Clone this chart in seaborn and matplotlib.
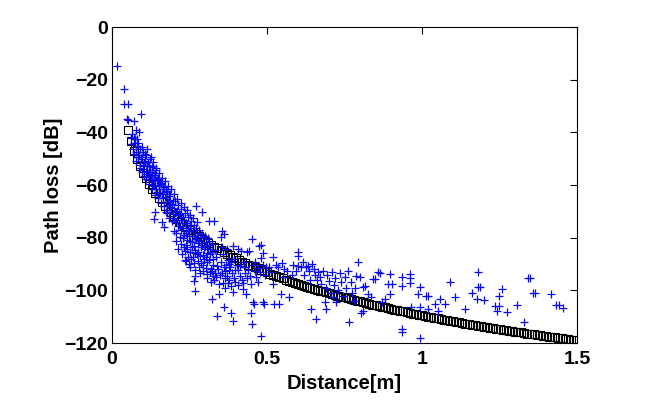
import numpy as np
import pandas as pd
import matplotlib
matplotlib.use('Agg')
import matplotlib.pyplot as plt
import seaborn as sns

# model curve (black squares), one square every 0.01 m from 0.05 to 1.50 m
model_loss = [
    -39.0, -43.3, -46.9, -50.0, -52.8, -55.3, -57.5, -59.6, -61.5, -63.2,
    -64.8, -66.4, -67.8, -69.1, -70.4, -71.6, -72.8, -73.9, -74.9, -75.9,
    -76.9, -77.8, -78.7, -79.5, -80.4, -81.2, -81.9, -82.7, -83.4, -84.1,
    -84.8, -85.5, -86.1, -86.7, -87.3, -87.9, -88.5, -89.1, -89.6, -90.2,
    -90.7, -91.2, -91.7, -92.2, -92.7, -93.2, -93.7, -94.1, -94.6, -95.0,
    -95.4, -95.9, -96.3, -96.7, -97.1, -97.5, -97.9, -98.2, -98.6, -99.0,
    -99.4, -99.7, -100.1, -100.4, -100.8, -101.1, -101.4, -101.8, -102.1, -102.4,
    -102.7, -103.0, -103.3, -103.7, -104.0, -104.2, -104.5, -104.8, -105.1, -105.4,
    -105.7, -106.0, -106.2, -106.5, -106.8, -107.0, -107.3, -107.5, -107.8, -108.0,
    -108.3, -108.5, -108.8, -109.0, -109.3, -109.5, -109.7, -110.0, -110.2, -110.4,
    -110.6, -110.9, -111.1, -111.3, -111.5, -111.7, -112.0, -112.2, -112.4, -112.6,
    -112.8, -113.0, -113.2, -113.4, -113.6, -113.8, -114.0, -114.2, -114.4, -114.6,
    -114.8, -114.9, -115.1, -115.3, -115.5, -115.7, -115.9, -116.0, -116.2, -116.4,
    -116.6, -116.7, -116.9, -117.1, -117.3, -117.4, -117.6, -117.8, -117.9, -118.1,
    -118.2, -118.4, -118.6, -118.7, -118.9, -119.0,
]
model_dist = np.linspace(0.05, 1.5, len(model_loss))

meas_near = [
    (0.016, -14.7), (0.038, -23.7), (0.038, -29.3), (0.052, -29.3), (0.092, -33.1),
    (0.049, -34.8), (0.052, -35.3), (0.070, -35.7), (0.076, -39.2), (0.086, -39.9),
    (0.070, -41.8), (0.080, -42.5), (0.064, -40.5),
    (0.062, -42.3), (0.060, -44.6),
    (0.072, -44.1), (0.068, -46.4), (0.071, -48.2), (0.075, -42.7),
    (0.081, -45.3), (0.079, -47.6), (0.083, -49.2), (0.085, -44.1), (0.078, -50.7),
    (0.091, -46.2), (0.088, -48.7), (0.093, -50.3), (0.090, -52.4), (0.096, -45.5), (0.089, -53.6),
    (0.101, -47.4), (0.098, -49.3), (0.104, -51.7), (0.100, -52.9), (0.097, -55.1), (0.103, -56.6), (0.106, -48.2),
    (0.111, -48.6), (0.108, -50.8), (0.113, -52.3), (0.110, -54.7), (0.115, -55.9), (0.109, -57.8), (0.114, -46.5), (0.117, -51.2),
    (0.121, -50.3), (0.118, -52.9), (0.124, -54.2), (0.120, -56.4), (0.126, -57.6), (0.119, -59.5), (0.128, -53.1), (0.125, -49.4),
    (0.131, -52.6), (0.128, -54.9), (0.134, -56.1), (0.130, -58.3), (0.136, -60.4), (0.129, -61.7), (0.138, -55.3), (0.133, -51.2), (0.140, -57.6),
    (0.141, -54.4), (0.138, -56.8), (0.144, -58.1), (0.140, -60.2), (0.146, -62.5), (0.139, -63.8), (0.148, -57.2), (0.143, -53.4), (0.140, -70.4), (0.135, -72.9),
    (0.151, -55.6), (0.148, -57.9), (0.154, -59.3), (0.150, -61.4), (0.156, -63.2), (0.149, -64.9), (0.158, -58.4), (0.153, -60.1),
    (0.161, -57.2), (0.158, -59.7), (0.164, -61.6), (0.160, -63.3), (0.166, -65.1), (0.159, -66.8), (0.168, -60.5), (0.162, -74.2),
    (0.171, -58.3), (0.168, -60.9), (0.174, -62.2), (0.170, -64.6), (0.176, -66.4), (0.169, -68.1), (0.173, -70.2), (0.167, -76.1),
    (0.181, -60.4), (0.178, -62.7), (0.184, -64.3), (0.180, -66.5), (0.186, -68.2), (0.179, -70.6), (0.183, -72.4), (0.188, -63.5),
    (0.191, -61.5), (0.188, -65.8), (0.194, -67.3), (0.190, -69.4), (0.196, -71.2), (0.193, -73.5), (0.197, -66.2),
]

meas_mid = [
    (0.201, -63.4), (0.204, -66.1), (0.200, -68.6), (0.206, -70.3), (0.199, -72.7), (0.203, -74.1), (0.200, -77.3),
    (0.211, -65.2), (0.214, -67.5), (0.210, -69.8), (0.216, -71.1), (0.209, -73.4), (0.213, -75.6), (0.205, -78.2), (0.207, -81.4), (0.212, -84.3),
    (0.221, -66.9), (0.224, -69.3), (0.220, -71.5), (0.226, -73.2), (0.219, -75.7), (0.223, -77.1), (0.218, -79.6), (0.222, -82.4), (0.225, -86.2),
    (0.231, -68.3), (0.234, -70.7), (0.230, -72.1), (0.236, -74.6), (0.229, -76.2), (0.233, -78.8), (0.228, -80.3), (0.232, -83.5), (0.235, -85.1), (0.237, -88.4),
    (0.241, -69.5), (0.244, -72.2), (0.240, -74.4), (0.246, -76.9), (0.239, -78.1), (0.243, -80.7), (0.238, -82.6), (0.242, -84.2), (0.245, -87.3), (0.248, -90.1), (0.240, -89.0),
    (0.251, -71.3), (0.254, -73.8), (0.250, -75.2), (0.256, -77.5), (0.249, -79.4), (0.253, -81.1), (0.257, -83.7), (0.252, -85.5), (0.255, -88.2), (0.250, -91.3),
    (0.261, -72.6), (0.264, -75.1), (0.260, -77.4), (0.266, -79.3), (0.259, -81.8), (0.263, -83.2), (0.267, -85.9), (0.262, -87.4), (0.265, -89.6), (0.268, -92.3),
    (0.270, -67.8), (0.275, -74.2), (0.271, -76.5), (0.274, -78.3), (0.272, -80.6), (0.276, -82.1), (0.269, -84.7), (0.273, -86.3), (0.277, -88.8), (0.268, -94.5), (0.265, -96.4), (0.268, -100.2),
    (0.281, -77.2), (0.284, -79.7), (0.280, -81.3), (0.286, -83.6), (0.279, -85.4), (0.283, -87.1), (0.287, -89.5), (0.282, -91.2), (0.285, -93.4),
    (0.290, -70.4), (0.291, -78.5), (0.294, -80.2), (0.290, -82.7), (0.296, -84.3), (0.293, -86.6), (0.297, -88.1), (0.292, -90.4), (0.295, -92.6),
    (0.301, -79.4), (0.304, -81.6), (0.300, -83.2), (0.306, -85.7), (0.303, -87.5), (0.307, -89.3), (0.302, -91.6), (0.305, -93.8), (0.308, -95.2),
    (0.313, -73.5), (0.311, -80.3), (0.314, -82.8), (0.310, -84.4), (0.316, -86.2), (0.318, -91.9), (0.318, -97.0), (0.312, -88.5), (0.315, -93.1),
    (0.329, -73.8), (0.321, -82.3), (0.324, -85.6), (0.327, -88.1), (0.325, -90.3), (0.322, -92.5), (0.324, -103.4), (0.326, -94.7), (0.328, -96.2),
    (0.332, -84.5), (0.335, -87.2), (0.338, -90.6), (0.331, -93.3), (0.336, -95.1), (0.340, -109.7), (0.346, -101.5), (0.342, -91.8), (0.344, -97.6),
    (0.356, -77.3), (0.362, -78.6), (0.351, -79.9), (0.355, -83.4), (0.358, -86.1), (0.352, -89.2), (0.360, -91.3),
    (0.354, -93.6), (0.364, -95.4), (0.362, -106.5), (0.370, -84.2), (0.373, -88.3), (0.368, -90.5), (0.376, -92.2),
    (0.371, -94.7), (0.375, -97.1), (0.383, -108.5), (0.389, -83.0), (0.389, -100.8), (0.389, -111.6), (0.385, -89.4),
    (0.381, -91.1), (0.387, -93.5), (0.392, -95.5), (0.395, -88.2), (0.398, -92.4), (0.358, -97.3), (0.366, -99.1),
    (0.378, -96.2), (0.384, -98.4), (0.396, -96.9), (0.348, -94.2), (0.363, -92.8), (0.379, -90.1),
    (0.405, -84.3), (0.416, -85.0), (0.403, -90.3), (0.408, -92.1), (0.412, -94.4), (0.418, -96.2), (0.421, -99.5),
    (0.432, -101.5), (0.443, -85.0), (0.437, -85.6), (0.425, -89.3), (0.430, -91.2), (0.428, -93.6), (0.435, -95.3),
    (0.440, -92.2), (0.445, -94.6), (0.448, -108.5), (0.451, -112.9), (0.451, -80.5), (0.454, -104.6), (0.459, -105.3),
    (0.455, -90.4), (0.460, -92.5), (0.465, -95.1), (0.470, -91.5), (0.475, -83.0), (0.480, -82.7), (0.486, -86.0),
    (0.480, -87.7), (0.478, -93.2), (0.486, -104.6), (0.491, -105.3), (0.480, -117.3), (0.488, -90.2), (0.495, -94.3),
    (0.406, -97.8), (0.414, -90.6), (0.423, -97.2), (0.447, -97.5), (0.462, -89.1), (0.472, -96.8), (0.498, -91.1),
]

meas_far = [
    (0.518, -87.2), (0.505, -91.0), (0.512, -93.0), (0.518, -97.6), (0.524, -105.3), (0.535, -91.3), (0.540, -105.3),
    (0.545, -101.5), (0.556, -91.9), (0.550, -95.0), (0.572, -102.7), (0.565, -92.5), (0.580, -94.0), (0.599, -85.6),
    (0.599, -86.9), (0.599, -90.7), (0.610, -91.3), (0.626, -91.3), (0.620, -94.0), (0.642, -107.2), (0.635, -92.5),
    (0.528, -90.2), (0.548, -89.6), (0.585, -90.4), (0.592, -92.8), (0.615, -89.4), (0.632, -90.6), (0.645, -89.9),
    (0.640, -96.0), (0.651, -92.0), (0.655, -94.0), (0.660, -96.0), (0.665, -93.0), (0.659, -111.0), (0.670, -95.0),
    (0.675, -97.5), (0.680, -92.5), (0.686, -104.6), (0.691, -107.2), (0.690, -99.0), (0.695, -94.0), (0.700, -96.5),
    (0.705, -101.0), (0.713, -102.7), (0.710, -93.0), (0.715, -98.0), (0.723, -104.6), (0.720, -95.5), (0.730, -100.0),
    (0.735, -93.5), (0.740, -97.0), (0.745, -102.0), (0.750, -95.0), (0.755, -99.0), (0.761, -92.6), (0.765, -112.0),
    (0.770, -97.0), (0.775, -101.0), (0.788, -94.5), (0.799, -95.1), (0.794, -89.4), (0.780, -104.0), (0.785, -99.0),
    (0.804, -108.5), (0.810, -107.8), (0.815, -98.3), (0.810, -98.9), (0.826, -101.5), (0.837, -102.7), (0.842, -95.7),
    (0.848, -95.7), (0.858, -93.2), (0.864, -93.6), (0.870, -104.5), (0.880, -103.4), (0.891, -97.6), (0.896, -93.8),
    (0.896, -101.5), (0.902, -97.6), (0.934, -94.9), (0.934, -98.3), (0.934, -114.8), (0.934, -115.7), (0.961, -93.8),
    (0.961, -95.4), (0.961, -97.4), (0.966, -106.5), (0.988, -101.5), (0.994, -98.9), (0.994, -106.5), (0.994, -118.0),
    (1.014, -102.1), (1.020, -102.1), (1.020, -107.2), (1.042, -105.3), (1.053, -107.8), (1.058, -103.4), (1.074, -105.3),
    (1.091, -97.0), (1.107, -102.7), (1.139, -107.2), (1.161, -101.2), (1.177, -103.4), (1.182, -93.2), (1.182, -98.9),
    (1.188, -98.9), (1.199, -103.7), (1.236, -105.9), (1.242, -107.8), (1.247, -102.1), (1.247, -105.9), (1.258, -99.5),
    (1.274, -108.1), (1.306, -105.5), (1.330, -111.9), (1.341, -95.4), (1.348, -95.4), (1.358, -101.2), (1.363, -101.2),
    (1.415, -101.5), (1.431, -105.5), (1.442, -105.5), (1.455, -106.8),
]

x_ticks = [0, 0.5, 1, 1.5]
x_tick_labels = ['0', '0.5', '1', '1.5']
y_ticks = [0, -20, -40, -60, -80, -100, -120]

meas = pd.DataFrame(meas_near + meas_mid + meas_far, columns=['dist', 'loss'])
model = pd.DataFrame({'dist': model_dist, 'loss': model_loss})

sns.set_style('white')
plt.rcParams['font.family'] = ['Liberation Sans', 'DejaVu Sans']
plt.rcParams['font.weight'] = 'bold'
plt.rcParams['xtick.direction'] = 'in'
plt.rcParams['ytick.direction'] = 'in'
plt.rcParams['text.color'] = 'black'
plt.rcParams['axes.labelcolor'] = 'black'

fig = plt.figure(figsize=(6.45, 4.01), dpi=100)
ax = fig.add_axes([112 / 645, 58 / 401, 465 / 645, 316 / 401])

sns.lineplot(data=model, x='dist', y='loss', ax=ax, marker='s', linestyle='none',
             color='black', markerfacecolor='none', markeredgecolor='black',
             markersize=5.4, markeredgewidth=0.8, estimator=None, sort=False)
sns.scatterplot(data=meas, x='dist', y='loss', ax=ax, marker='+', color='#0a0aee',
                s=36, linewidth=0.9, zorder=3)

ax.set_xlim(0, 1.5)
ax.set_ylim(-120, 0)
ax.set_xticks(x_ticks)
ax.set_xticklabels(x_tick_labels)
ax.set_yticks(y_ticks)
ax.tick_params(axis='both', labelsize=14, length=5, width=0.8, top=True, right=True,
               colors='black')
ax.tick_params(axis='x', pad=6)
ax.tick_params(axis='y', pad=3)
for lab in ax.get_xticklabels() + ax.get_yticklabels():
    lab.set_fontweight('bold')
for sp in ax.spines.values():
    sp.set_color('black')
    sp.set_linewidth(0.8)

ax.set_xlabel('Distance[m]', fontsize=14.5, fontweight='bold', labelpad=4)
ax.set_ylabel('Path loss [dB]', fontsize=14.5, fontweight='bold', labelpad=1)

fig.savefig('out.png', dpi=100, facecolor='white')
